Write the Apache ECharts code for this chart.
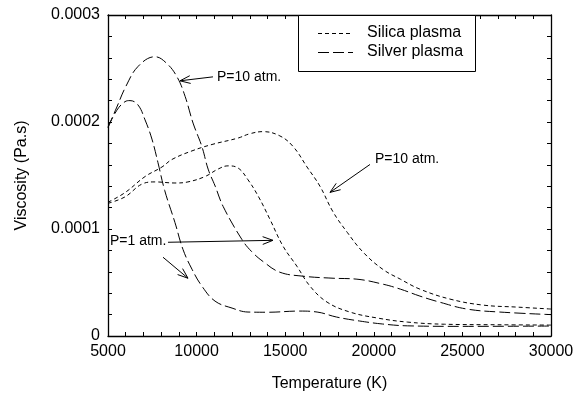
<!DOCTYPE html>
<html>
<head>
<meta charset="utf-8">
<script src="https://cdn.jsdelivr.net/npm/echarts@6/dist/echarts.min.js"></script>
<style>
html,body{margin:0;padding:0;background:#fff;}
#chart{width:579px;height:397px;}
</style>
</head>
<body>
<div id="chart"></div>
<script>
// ---- data (Temperature K, Viscosity Pa.s) ----
var silicaP10 = [[5000,0.000125],[5960,0.000134],[7090,0.000149],[8050,0.000158],[8610,0.000165],[9740,0.000173],[10870,0.000179],[12340,0.000185],[13000,0.000189],[13750,0.000191],[14700,0.000187],[15450,0.000177],[16230,0.000158],[16960,0.00014],[17700,0.000116],[18500,0.0000969],[19400,0.0000783],[20500,0.0000624],[21500,0.0000531],[22600,0.0000438],[24300,0.0000345],[26150,0.0000289],[28100,0.000027],[30000,0.0000252]];
var silicaP1 = [[5000,0.000124],[5960,0.00013],[6920,0.000142],[7650,0.000144],[8780,0.000143],[9510,0.000144],[10470,0.000149],[11210,0.000156],[11770,0.000159],[12340,0.000157],[12900,0.000146],[13500,0.00013],[14140,0.000109],[14880,0.0000839],[15660,0.0000652],[16400,0.0000466],[17360,0.0000317],[18650,0.0000224],[20200,0.0000168],[21900,0.000013],[24000,0.000011],[27000,0.0000105],[30000,0.0000102]];
var silverP10 = [[5000,0.000195],[5500,0.000214],[6000,0.000233],[6700,0.000252],[7650,0.000261],[8300,0.000255],[8900,0.000242],[9350,0.000224],[9800,0.000199],[10300,0.000177],[10650,0.000156],[11050,0.00014],[11500,0.000121],[12550,0.0000904],[13100,0.0000790],[13800,0.000069],[14700,0.0000596],[16000,0.0000559],[17700,0.000054],[19050,0.0000531],[20500,0.0000485],[21500,0.0000438],[22600,0.0000373],[23700,0.0000317],[25250,0.0000252],[27100,0.0000224],[30000,0.00002]];
var silverP1 = [[5000,0.000195],[5500,0.000211],[5960,0.000219],[6240,0.00022],[6690,0.000216],[7090,0.000202],[7480,0.000184],[7820,0.000162],[8200,0.000136],[8780,0.000106],[9230,0.000081],[9740,0.0000624],[10300,0.0000466],[11040,0.0000326],[12000,0.0000261],[12900,0.0000224],[14000,0.0000222],[15800,0.0000233],[16800,0.0000224],[17900,0.0000177],[19200,0.000014],[20500,0.0000112],[21900,0.0000095],[25000,0.000009],[30000,0.0000093]];

var seriesNames = ['Silica plasma','Silver plasma'];
var xTickLabels = ['5000','10000','15000','20000','25000','30000'];
var yTickLabels = ['0','0.0001','0.0002','0.0003'];
var xTitle = 'Temperature (K)';
var yTitle = 'Viscosity (Pa.s)';

// annotations: text, text anchor [T,V], arrows [[tailT,tailV],[tipT,tipV]]
var annoTexts = ['P=10 atm.','P=10 atm.','P=1 atm.'];
var annoTextPos = [[11150,0.000242],[20067,0.000165],[5113,0.0000885]];
var annoArrows = [
  [[10925,0.0002422],[9063,0.0002385]],
  [[19785,0.0001603],[17527,0.0001342]],
  [[8386,0.0000876],[14311,0.0000894]],
  [[8104,0.0000736],[9514,0.000054]]
];

var FONT = '"Liberation Sans", Arial, Helvetica, sans-serif';
var DASH_SILICA = [4,3], DASH_SILVER = [11,4];
var chart = echarts.init(document.getElementById('chart'), null, {renderer:'canvas'});

function lineSeries(name, data, dash){
  return {
    name: name, type:'line', data: data, xAxisIndex:0, yAxisIndex:0,
    smooth: 0.4, showSymbol:false, symbol:'none', silent:true,
    lineStyle:{color:'#000', width:1, type: dash},
    itemStyle:{color:'#000'}
  };
}

var axisCommon = {
  axisLine:{show:true, onZero:false, lineStyle:{color:'#000', width:1.3}},
  axisTick:{show:true, inside:true, length:4, lineStyle:{color:'#000', width:1}},
  minorTick:{show:true, splitNumber:5, length:4, lineStyle:{color:'#000', width:1}},
  splitLine:{show:false}
};

var option = {
  animation:false,
  backgroundColor:'#fff',
  grid:{left:108, right:28, top:15, bottom:60, containLabel:false},
  xAxis:[
    Object.assign({type:'value', position:'bottom', min:5000, max:30000, interval:5000,
      axisLabel:{show:true, margin:8, fontFamily:FONT, fontSize:16, color:'#000',
        formatter:function(v){ return xTickLabels[Math.round((v-5000)/5000)]; }},
      name:xTitle, nameLocation:'middle', nameGap:40,
      nameTextStyle:{fontFamily:FONT, fontSize:16, color:'#000'}
    }, axisCommon),
    Object.assign({type:'value', position:'top', min:5000, max:30000, interval:5000,
      axisLabel:{show:false}}, axisCommon)
  ],
  yAxis:[
    Object.assign({type:'value', position:'left', min:0, max:0.0003, interval:0.0001,
      axisLabel:{show:true, margin:8, fontFamily:FONT, fontSize:16, color:'#000',
        formatter:function(v){ return yTickLabels[Math.round(v/0.0001)]; }},
      name:yTitle, nameLocation:'middle', nameGap:78, nameRotate:90,
      nameTextStyle:{fontFamily:FONT, fontSize:16, color:'#000'}
    }, axisCommon),
    Object.assign({type:'value', position:'right', min:0, max:0.0003, interval:0.0001,
      axisLabel:{show:false}}, axisCommon)
  ],
  series:[
    lineSeries(seriesNames[0], silicaP10, DASH_SILICA),
    lineSeries(seriesNames[1], silverP10, DASH_SILVER),
    lineSeries(seriesNames[0], silicaP1, DASH_SILICA),
    lineSeries(seriesNames[1], silverP1, DASH_SILVER)
  ]
};
chart.setOption(option);

function px(p){ return chart.convertToPixel({gridIndex:0}, p); }
var g = [];
// legend box
g.push({type:'rect', shape:{x:298.5, y:15.5, width:177, height:56}, style:{fill:'#fff', stroke:'#000', lineWidth:1}, z:20, silent:true});
[[DASH_SILICA,33],[DASH_SILVER,52]].forEach(function(it,i){
  g.push({type:'line', shape:{x1:318, y1:it[1]+0.5, x2:353, y2:it[1]+0.5}, style:{stroke:'#000', lineWidth:1, lineDash:it[0]}, z:21, silent:true});
  g.push({type:'text', x:367, y:it[1], style:{text:seriesNames[i], fontFamily:FONT, fontSize:16, fill:'#000', align:'left', verticalAlign:'middle'}, z:21, silent:true});
});
annoArrows.forEach(function(a){
  var t = px(a[0]), h = px(a[1]);
  g.push({type:'line', shape:{x1:t[0],y1:t[1],x2:h[0],y2:h[1]}, style:{stroke:'#000', lineWidth:1}, silent:true});
  var ang = Math.atan2(t[1]-h[1], t[0]-h[0]);
  var L = 11, w = 0.36;
  var p1 = [h[0]+L*Math.cos(ang+w), h[1]+L*Math.sin(ang+w)];
  var p2 = [h[0]+L*Math.cos(ang-w), h[1]+L*Math.sin(ang-w)];
  g.push({type:'polyline', shape:{points:[p1,h,p2]}, style:{stroke:'#000', lineWidth:1, fill:null}, silent:true});
});
annoTexts.forEach(function(s,i){
  var p = px(annoTextPos[i]);
  g.push({type:'text', x:p[0], y:p[1], style:{text:s, fontFamily:FONT, fontSize:14, fill:'#000', align:'left', verticalAlign:'middle'}, z:10, silent:true});
});
chart.setOption({graphic:g});
</script>
</body>
</html>
